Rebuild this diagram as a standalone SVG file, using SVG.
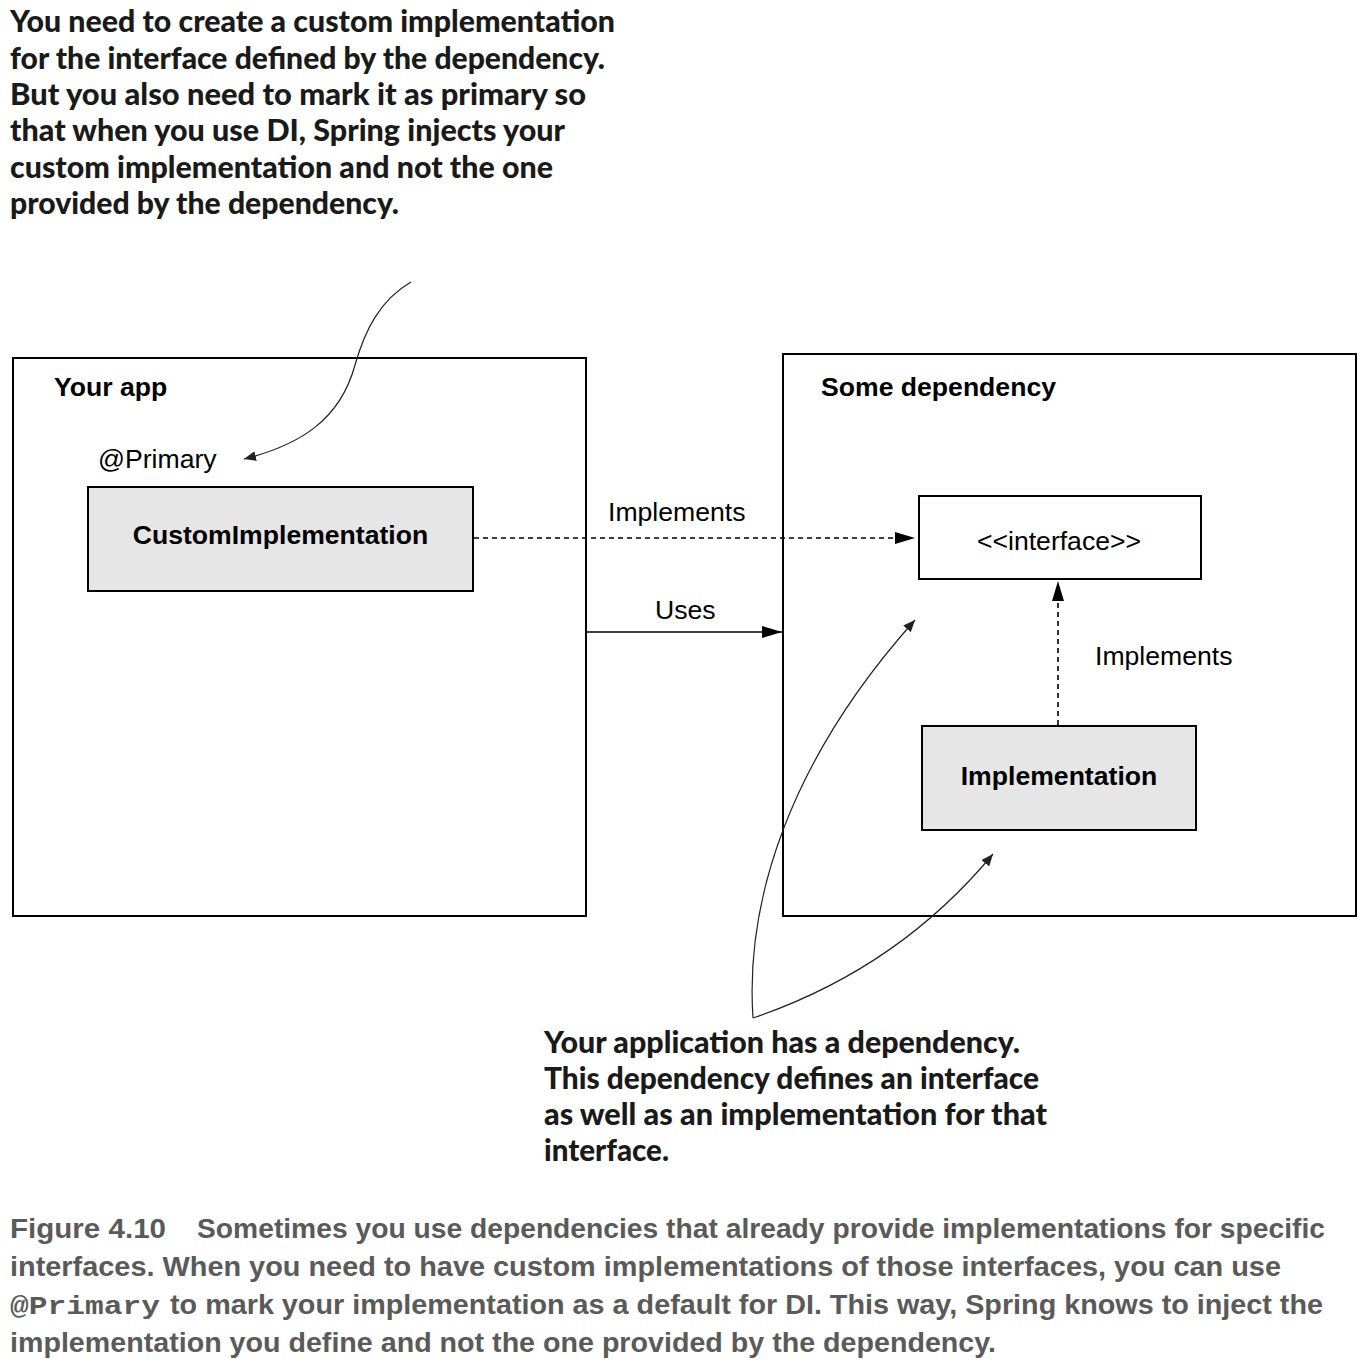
<svg xmlns="http://www.w3.org/2000/svg" width="1364" height="1368" viewBox="0 0 1364 1368">
<style>
.note{font-family:Lato,"Liberation Sans",sans-serif;font-weight:900;font-size:30px;fill:#1a1a1a}
.lbl{font-family:"Liberation Sans",Arial,sans-serif;font-size:26.6px;fill:#000}
.b{font-weight:bold}
.cap{font-family:"Liberation Sans",Arial,sans-serif;font-weight:bold;font-size:28px;fill:#5a5a5a}
.mono{font-family:"Liberation Mono","Courier New",monospace;font-weight:bold;font-size:26px;fill:#5a5a5a}
.box{fill:#fff;stroke:#000;stroke-width:2}
.grey{fill:#e6e6e6;stroke:#000;stroke-width:2}
.conn{fill:none;stroke:#000;stroke-width:1.6}
.dash{stroke-dasharray:5,4}
.thin{fill:none;stroke:#222;stroke-width:1.2}
</style>
<defs>
<marker id="ahb" markerWidth="20" markerHeight="12" refX="20" refY="6" orient="auto" markerUnits="userSpaceOnUse" viewBox="0 0 20 12"><path d="M0,0 L20,6 L0,12 z" fill="#000"/></marker>
<marker id="ahs" markerWidth="12" markerHeight="10" refX="12" refY="5" orient="auto" markerUnits="userSpaceOnUse" viewBox="0 0 12 10"><path d="M0,0 L12,5 L0,10 z" fill="#222"/></marker>
</defs>
<rect width="1364" height="1368" fill="#fff"/>

<g id="top-note">
<text class="note" x="10" y="32" textLength="605" lengthAdjust="spacingAndGlyphs">You need to create a custom implementation</text>
<text class="note" x="10" y="69" textLength="595" lengthAdjust="spacingAndGlyphs">for the interface defined by the dependency.</text>
<text class="note" x="10" y="105" textLength="576" lengthAdjust="spacingAndGlyphs">But you also need to mark it as primary so</text>
<text class="note" x="10" y="141" textLength="555" lengthAdjust="spacingAndGlyphs">that when you use DI, Spring injects your</text>
<text class="note" x="10" y="178" textLength="543" lengthAdjust="spacingAndGlyphs">custom implementation and not the one</text>
<text class="note" x="10" y="214" textLength="389" lengthAdjust="spacingAndGlyphs">provided by the dependency.</text>
</g>

<g id="your-app">
<rect class="box" x="13" y="358" width="573" height="558"/>
<text class="lbl b" x="54" y="396">Your app</text>
</g>
<g id="some-dependency">
<rect class="box" x="783" y="354" width="573" height="562"/>
<text class="lbl b" x="821" y="396">Some dependency</text>
</g>
<g id="custom-impl">
<text class="lbl" x="98" y="468">@Primary</text>
<rect class="grey" x="88" y="487" width="385" height="104"/>
<text class="lbl b" x="280.5" y="544" text-anchor="middle">CustomImplementation</text>
</g>
<g id="interface">
<rect class="box" x="919" y="496" width="282" height="83"/>
<text class="lbl" x="1059" y="550" text-anchor="middle">&lt;&lt;interface&gt;&gt;</text>
</g>
<g id="implementation">
<rect class="grey" x="922" y="726" width="274" height="104"/>
<text class="lbl b" x="1059" y="785" text-anchor="middle">Implementation</text>
</g>

<g id="connectors">
<path class="conn dash" d="M474,538 L915,538" marker-end="url(#ahb)"/>
<text class="lbl" x="608" y="521">Implements</text>
<path class="conn" d="M587,632 L782,632" marker-end="url(#ahb)"/>
<text class="lbl" x="655" y="619">Uses</text>
<path class="conn dash" d="M1058,725 L1058,581" marker-end="url(#ahb)"/>
<text class="lbl" x="1095" y="665">Implements</text>
<path class="thin" d="M411,282 C380,300 365,330 355,365 C340,420 300,445 244,459" marker-end="url(#ahs)"/>
<path class="thin" d="M753,1018 C745,900 790,760 915,620" marker-end="url(#ahs)"/>
<path class="thin" d="M753,1018 C850,985 930,930 993,854" marker-end="url(#ahs)"/>
</g>

<g id="bottom-note">
<text class="note" x="544" y="1053" textLength="476" lengthAdjust="spacingAndGlyphs">Your application has a dependency.</text>
<text class="note" x="544" y="1089" textLength="495" lengthAdjust="spacingAndGlyphs">This dependency defines an interface</text>
<text class="note" x="544" y="1125" textLength="503" lengthAdjust="spacingAndGlyphs">as well as an implementation for that</text>
<text class="note" x="544" y="1161" textLength="125" lengthAdjust="spacingAndGlyphs">interface.</text>
</g>

<g id="caption">
<text class="cap" x="10" y="1238" textLength="156" lengthAdjust="spacingAndGlyphs">Figure 4.10</text>
<text class="cap" x="197" y="1238" textLength="1128" lengthAdjust="spacingAndGlyphs">Sometimes you use dependencies that already provide implementations for specific</text>
<text class="cap" x="10" y="1276" textLength="1271" lengthAdjust="spacingAndGlyphs">interfaces. When you need to have custom implementations of those interfaces, you can use</text>
<text class="mono" x="10" y="1314" textLength="150" lengthAdjust="spacingAndGlyphs">@Primary</text>
<text class="cap" x="170" y="1314" textLength="1153" lengthAdjust="spacingAndGlyphs">to mark your implementation as a default for DI. This way, Spring knows to inject the</text>
<text class="cap" x="10" y="1352" textLength="986" lengthAdjust="spacingAndGlyphs">implementation you define and not the one provided by the dependency.</text>
</g>
</svg>
